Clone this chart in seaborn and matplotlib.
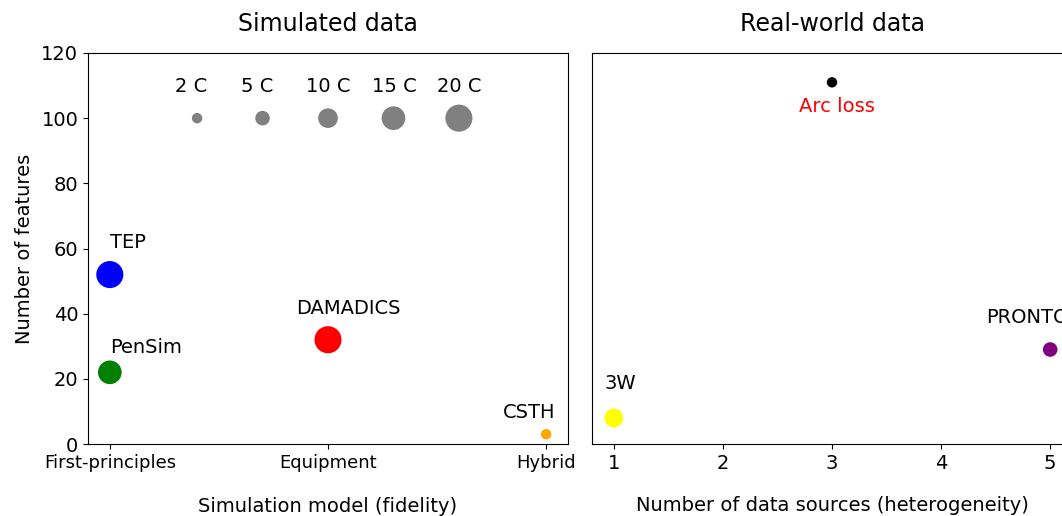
import numpy as np
import pandas as pd
import matplotlib
matplotlib.use("Agg")
import matplotlib.pyplot as plt
import seaborn as sns

# ---- data -------------------------------------------------------------
fidelity_levels = ["First-principles", "Equipment", "Hybrid"]

sim_names = ["TEP", "PenSim", "DAMADICS", "CSTH"]
sim_fidelity = ["First-principles", "First-principles", "Equipment", "Hybrid"]
sim_features = [52, 22, 32, 3]
sim_classes = [21, 15, 20, 2]
sim_colors = ["blue", "green", "red", "orange"]

real_names = ["3W", "Arc loss", "PRONTO"]
real_sources = [1, 3, 5]
real_features = [8, 111, 29]
real_classes = [9, 2, 5]
real_colors = ["yellow", "black", "purple"]

ref_classes = [2, 5, 10, 15, 20]
ref_labels = ["2 C", "5 C", "10 C", "15 C", "20 C"]
ref_features = 100

# ---- styling ----------------------------------------------------------
plt.rcParams["font.family"] = ["DejaVu Sans"]
SIZES = (56, 380)
SIZE_NORM = (2, 20)

sim_df = pd.DataFrame({
    "name": sim_names,
    "x": [fidelity_levels.index(f) for f in sim_fidelity],
    "features": sim_features,
    "classes": sim_classes,
})
real_df = pd.DataFrame({
    "name": real_names,
    "x": real_sources,
    "features": real_features,
    "classes": real_classes,
})
ref_df = pd.DataFrame({
    "x": np.linspace(0.4, 1.6, len(ref_classes)),
    "features": [ref_features] * len(ref_classes),
    "classes": ref_classes,
    "label": ref_labels,
})

fig = plt.figure(figsize=(10.62, 5.16), dpi=100)
ax1 = fig.add_axes([88 / 1062, 72 / 516, 480 / 1062, 391 / 516])
ax2 = fig.add_axes([592 / 1062, 72 / 516, 480 / 1062, 391 / 516])

# left panel: simulated benchmarks
sns.scatterplot(data=sim_df, x="x", y="features", hue="name",
                palette=dict(zip(sim_names, sim_colors)),
                size="classes", sizes=SIZES, size_norm=SIZE_NORM,
                linewidth=0, alpha=1, legend=False, ax=ax1, zorder=3)
# size key
sns.scatterplot(data=ref_df, x="x", y="features", color="gray",
                size="classes", sizes=SIZES, size_norm=SIZE_NORM,
                linewidth=0, alpha=1, legend=False, ax=ax1, zorder=3)
for _, r in ref_df.iterrows():
    ax1.text(r["x"] - 0.1, r["features"] + 8, r["label"], fontsize=14,
             ha="left", va="baseline")

sim_offsets = {"TEP": (0.0, 8), "PenSim": (0.0, 6),
               "DAMADICS": (-0.145, 8), "CSTH": (-0.2, 5)}
for _, r in sim_df.iterrows():
    dx, dy = sim_offsets[r["name"]]
    ax1.text(r["x"] + dx, r["features"] + dy, r["name"], fontsize=14,
             ha="left", va="baseline")

ax1.set_xlim(-0.1, 2.1)
ax1.set_ylim(0, 120)
ax1.set_xticks(range(len(fidelity_levels)))
ax1.set_xticklabels(fidelity_levels, fontsize=13)
ax1.set_yticks(np.arange(0, 121, 20))
ax1.tick_params(axis="y", labelsize=14)
ax1.set_xlabel("Simulation model (fidelity)", fontsize=14, labelpad=18.5)
ax1.set_ylabel("Number of features", fontsize=14, labelpad=5)
ax1.set_title("Simulated data", fontsize=17, pad=16)

# right panel: real-world benchmarks
sns.scatterplot(data=real_df, x="x", y="features", hue="name",
                palette=dict(zip(real_names, real_colors)),
                size="classes", sizes=SIZES, size_norm=SIZE_NORM,
                linewidth=0, alpha=1, legend=False, ax=ax2, zorder=3)
real_offsets = {"3W": (-0.09, 9), "Arc loss": (-0.3, -9), "PRONTO": (-0.59, 8)}
for _, r in real_df.iterrows():
    dx, dy = real_offsets[r["name"]]
    ax2.text(r["x"] + dx, r["features"] + dy, r["name"], fontsize=14,
             ha="left", va="baseline",
             color="red" if r["name"] == "Arc loss" else "black")

ax2.set_xlim(0.8, 5.2)
ax2.set_ylim(0, 120)
ax2.set_xticks([1, 2, 3, 4, 5])
ax2.tick_params(axis="x", labelsize=14)
ax2.tick_params(axis="y", left=False, labelleft=False)
ax2.set_xlabel("Number of data sources (heterogeneity)", fontsize=14, labelpad=17)
ax2.set_ylabel("")
ax2.set_title("Real-world data", fontsize=17, pad=16)

fig.savefig("out.png", dpi=100)
